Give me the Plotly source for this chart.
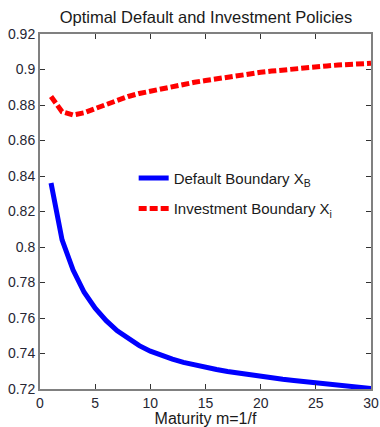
import plotly.graph_objects as go

maturity = list(range(1, 31))
default_boundary = [0.8360, 0.8040, 0.7870, 0.7745, 0.7655, 0.7585, 0.7528, 0.7482, 0.7444, 0.7413,
                    0.7388, 0.7368, 0.7350, 0.7335, 0.7322, 0.7310, 0.7299, 0.7289, 0.7280, 0.7271,
                    0.7263, 0.7255, 0.7248, 0.7241, 0.7234, 0.7227, 0.7221, 0.7215, 0.7209, 0.7203]
investment_boundary = [0.8848, 0.8762, 0.8744, 0.8756, 0.8780, 0.8805, 0.8828, 0.8848, 0.8865, 0.8879,
                       0.8892, 0.8905, 0.8917, 0.8928, 0.8938, 0.8948, 0.8958, 0.8967, 0.8976, 0.8984,
                       0.8991, 0.8998, 0.9004, 0.9010, 0.9015, 0.9020, 0.9025, 0.9029, 0.9032, 0.9035]
x_ticks = [0, 5, 10, 15, 20, 25, 30]
y_ticks = [0.72, 0.74, 0.76, 0.78, 0.8, 0.82, 0.84, 0.86, 0.88, 0.9, 0.92]
y_tick_text = ["0.72", "0.74", "0.76", "0.78", "0.8", "0.82", "0.84", "0.86", "0.88", "0.9", "0.92"]

FONT = "Liberation Sans, Arial"

fig = go.Figure()
fig.add_trace(go.Scatter(x=maturity, y=default_boundary, mode="lines",
                         name="Default Boundary X<sub>B</sub>", legendgroup="a",
                         line=dict(color="#0000ff", width=5)))
fig.add_trace(go.Scatter(x=maturity, y=investment_boundary, mode="lines",
                         name="Investment Boundary X<sub>i</sub>", legendgroup="b",
                         line=dict(color="#ff0000", width=5, dash="8px,3px")))

axis_common = dict(showline=True, linecolor="#808080", linewidth=2, mirror="ticks",
                   ticks="inside", ticklen=5, tickcolor="#333333", showgrid=False,
                   zeroline=False, automargin=False,
                   tickfont=dict(family=FONT, size=14, color="#262633"))

fig.update_xaxes(range=[0, 30], tickvals=x_ticks,
                 title=dict(text="Maturity m=1/f", font=dict(family=FONT, size=16, color="#1a1a1a"), standoff=0),
                 **axis_common)
fig.update_yaxes(range=[0.72, 0.92], tickvals=y_ticks, ticktext=y_tick_text, **axis_common)

fig.update_layout(
    width=380, height=427,
    margin=dict(l=40, r=9, t=34, b=38),
    paper_bgcolor="white", plot_bgcolor="white",
    title=dict(text="Optimal Default and Investment Policies", x=0.542, xanchor="center",
               y=0.96, yanchor="middle",
               font=dict(family=FONT, size=16.5, color="#1a1a1a")),
    legend=dict(x=0.283, y=0.64, xanchor="left", yanchor="top", bgcolor="rgba(0,0,0,0)",
                itemwidth=30, tracegroupgap=8,
                font=dict(family=FONT, size=15, color="#1a1a1a")),
)

fig.write_html("out.html")
